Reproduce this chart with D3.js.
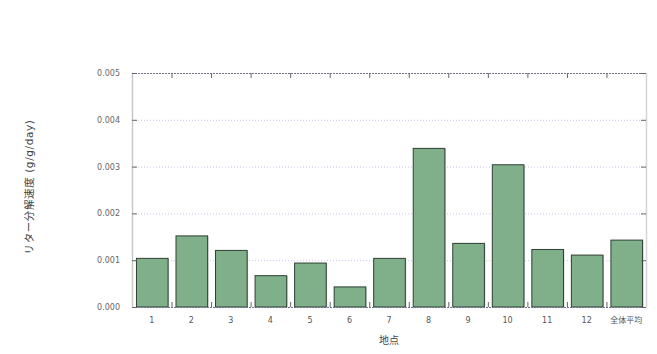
<!DOCTYPE html>
<html>
<head>
<meta charset="utf-8">
<script src="https://d3js.org/d3.v7.min.js"></script>
<style>
  body { margin: 0; background: #fff; }
  text { font-family: "DejaVu Sans", "Noto Sans CJK JP", sans-serif; }
</style>
</head>
<body>
<div id="chart"></div>
<script>
// data
const sites = ["1", "2", "3", "4", "5", "6", "7", "8", "9", "10", "11", "12", "全体平均"];
const rates = [0.00105, 0.00153, 0.00122, 0.00068, 0.00095, 0.00044, 0.00105, 0.00340, 0.00137, 0.00305, 0.00124, 0.00112, 0.00144];
const yTicks = [0, 0.001, 0.002, 0.003, 0.004, 0.005];

const W = 657, H = 354;
const m = { top: 73, right: 11, bottom: 47, left: 132 };
const iw = W - m.left - m.right, ih = H - m.top - m.bottom;

const svg = d3.select("#chart").append("svg").attr("width", W).attr("height", H);
const g = svg.append("g").attr("transform", `translate(${m.left},${m.top})`);

const x = d3.scaleBand().domain(sites).range([0, iw]).paddingInner(0.2).paddingOuter(0.1);
const y = d3.scaleLinear().domain([0, 0.005]).range([ih, 0]);

// grid lines
g.selectAll(".grid").data(yTicks.slice(1, -1)).enter().append("line")
  .attr("x1", 0).attr("x2", iw)
  .attr("y1", d => y(d) + 0.5).attr("y2", d => y(d) + 0.5)
  .attr("stroke", "#c4c4f4").attr("stroke-width", 1).attr("stroke-dasharray", "1,2");

// bars (light shadow, then body)
g.selectAll(".shadow").data(rates).enter().append("rect")
  .attr("x", (d, i) => x(sites[i]) + 1.5)
  .attr("y", d => y(d) + 1)
  .attr("width", x.bandwidth())
  .attr("height", d => ih - y(d) - 1)
  .attr("fill", "#d0d0d0");

g.selectAll(".bar").data(rates).enter().append("rect")
  .attr("x", (d, i) => x(sites[i]) + 0.5)
  .attr("y", d => y(d) + 0.5)
  .attr("width", x.bandwidth())
  .attr("height", d => ih - y(d) - 0.5)
  .attr("fill", "#80b08a")
  .attr("stroke", "#2e3f33").attr("stroke-width", 1);

// frame
g.append("line").attr("x1", 0.5).attr("x2", 0.5).attr("y1", 0).attr("y2", ih)
  .attr("stroke", "#c8c8c8").attr("stroke-width", 1.5);
g.append("line").attr("x1", iw + 0.5).attr("x2", iw + 0.5).attr("y1", 0).attr("y2", ih)
  .attr("stroke", "#d4d4d4").attr("stroke-width", 1.5);
g.append("line").attr("x1", 0).attr("x2", iw).attr("y1", 0.5).attr("y2", 0.5)
  .attr("stroke", "#707090").attr("stroke-width", 1).attr("stroke-dasharray", "2,1");
g.append("line").attr("x1", 0).attr("x2", iw).attr("y1", ih + 0.5).attr("y2", ih + 0.5)
  .attr("stroke", "#707090").attr("stroke-width", 1).attr("stroke-dasharray", "2,1");

// y ticks (left and right, inward)
const tickGrey = "#666";
yTicks.forEach(t => {
  g.append("line").attr("x1", 0).attr("x2", 5).attr("y1", y(t) + 0.5).attr("y2", y(t) + 0.5)
    .attr("stroke", tickGrey);
  g.append("line").attr("x1", iw - 5).attr("x2", iw).attr("y1", y(t) + 0.5).attr("y2", y(t) + 0.5)
    .attr("stroke", tickGrey);
});

const yAxis = g.append("g").call(d3.axisLeft(y).tickValues(yTicks).tickFormat(d3.format(".3f")).tickSize(0).tickPadding(12));
yAxis.select(".domain").remove();
yAxis.selectAll("text").attr("font-size", 8).attr("fill", "#666");

// x ticks at band boundaries (top and bottom, inward)
const bounds = sites.slice(1).map(s => x(s) - x.step() * x.paddingInner() / 2);
bounds.forEach(b => {
  g.append("line").attr("x1", b + 0.5).attr("x2", b + 0.5).attr("y1", 0).attr("y2", 5).attr("stroke", tickGrey);
  g.append("line").attr("x1", b + 0.5).attr("x2", b + 0.5).attr("y1", ih - 5).attr("y2", ih).attr("stroke", tickGrey);
});

const xAxis = g.append("g").attr("transform", `translate(0,${ih})`)
  .call(d3.axisBottom(x).tickSize(0).tickPadding(10));
xAxis.select(".domain").remove();
xAxis.selectAll("text").attr("font-size", 8).attr("fill", "#555");

// titles
svg.append("text")
  .attr("transform", `translate(33,${m.top + ih / 2 - 3}) rotate(-90)`)
  .attr("text-anchor", "middle")
  .attr("font-size", 10.5).attr("fill", "#444").attr("letter-spacing", 0.6)
  .text("リター分解速度  (g/g/day)");

svg.append("text")
  .attr("x", m.left + iw / 2).attr("y", 344)
  .attr("text-anchor", "middle")
  .attr("font-size", 10).attr("fill", "#444")
  .text("地点");
</script>
</body>
</html>
